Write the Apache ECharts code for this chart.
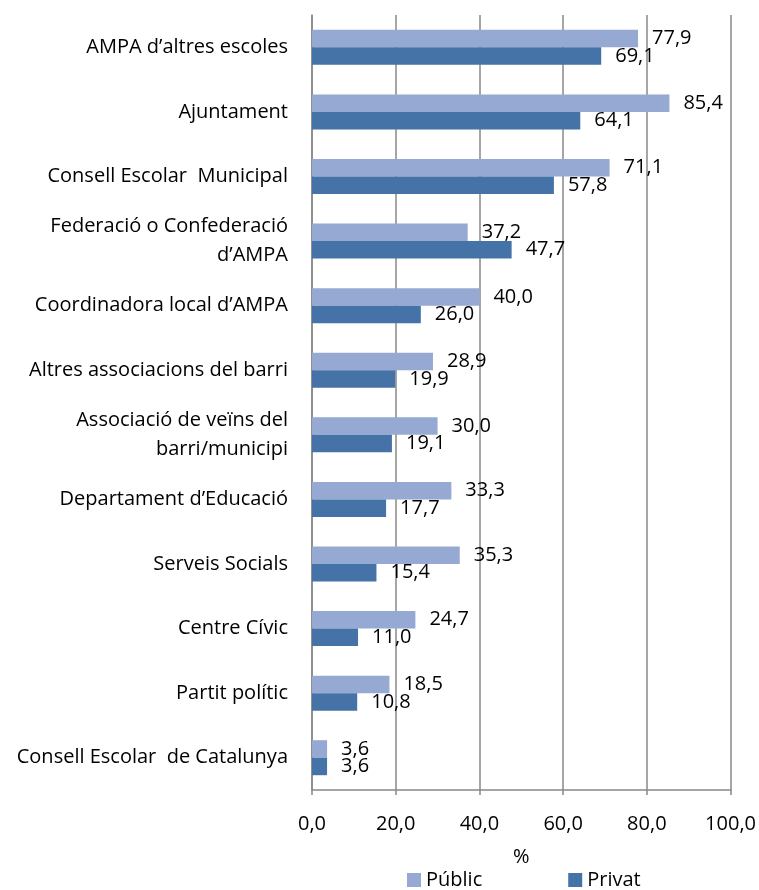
<!DOCTYPE html>
<html>
<head>
<meta charset="utf-8">
<script src="https://cdn.jsdelivr.net/npm/echarts@6/dist/echarts.min.js"></script>
<style>
  html, body { margin: 0; padding: 0; background: #fff; }
  #chart { width: 759px; height: 890px; }
</style>
</head>
<body>
<div id="chart"></div>
<script>
var categories = [
  "AMPA d’altres escoles",
  "Ajuntament",
  "Consell Escolar  Municipal",
  "Federació o Confederació\nd’AMPA",
  "Coordinadora local d’AMPA",
  "Altres associacions del barri",
  "Associació de veïns del\nbarri/municipi",
  "Departament d’Educació",
  "Serveis Socials",
  "Centre Cívic",
  "Partit polític",
  "Consell Escolar  de Catalunya"
];
var publicValues = [77.9, 85.4, 71.1, 37.2, 40.0, 28.9, 30.0, 33.3, 35.3, 24.7, 18.5, 3.6];
var privatValues = [69.1, 64.1, 57.8, 47.7, 26.0, 19.9, 19.1, 17.7, 15.4, 11.0, 10.8, 3.6];
var seriesNames = ["Públic", "Privat"];

var font = "Open Sans";
var fs = 20;
function fmt(v) { return Number(v).toFixed(1).replace(".", ","); }

var chart = echarts.init(document.getElementById("chart"), null, { renderer: "canvas" });

chart.setOption({
  animation: false,
  textStyle: { fontFamily: font, color: "#000" },
  grid: { left: 312, right: 27, top: 15, bottom: 100 },
  legend: {
    bottom: -5,
    left: 402,
    itemGap: 86,
    itemWidth: 14,
    itemHeight: 14,
    icon: "rect",
    textStyle: { fontFamily: font, fontSize: fs, color: "#000" },
    data: seriesNames
  },
  xAxis: {
    type: "value",
    min: 0,
    max: 100,
    interval: 20,
    name: "%",
    nameLocation: "middle",
    nameGap: 57,
    nameTextStyle: { fontFamily: font, fontSize: fs, color: "#000" },
    axisLine: { show: true, lineStyle: { color: "#888", width: 1.5 } },
    axisTick: { show: true, length: 5, lineStyle: { color: "#888", width: 1.5 } },
    axisLabel: { formatter: fmt, fontSize: fs, color: "#000", margin: 24, fontFamily: font },
    splitLine: { show: true, lineStyle: { color: "#888", width: 1.5 } }
  },
  yAxis: {
    type: "category",
    inverse: true,
    data: categories,
    axisLine: { show: true, lineStyle: { color: "#888", width: 1.5 } },
    axisTick: { show: false },
    axisLabel: { fontSize: fs, color: "#000", margin: 24, lineHeight: 29, fontFamily: font, align: "right" }
  },
  series: [
    {
      name: seriesNames[0],
      type: "bar",
      data: publicValues,
      barWidth: 17.5,
      barGap: "0%",
      itemStyle: { color: "#95A9D2" },
      label: { show: true, position: "right", distance: 14, formatter: function (p) { return fmt(p.value); }, fontSize: fs, color: "#000", fontFamily: font }
    },
    {
      name: seriesNames[1],
      type: "bar",
      data: privatValues,
      barWidth: 17.5,
      barGap: "0%",
      itemStyle: { color: "#4573A7" },
      label: { show: true, position: "right", distance: 14, formatter: function (p) { return fmt(p.value); }, fontSize: fs, color: "#000", fontFamily: font }
    }
  ]
});

window.addEventListener("resize", chart.resize);
</script>
</body>
</html>
